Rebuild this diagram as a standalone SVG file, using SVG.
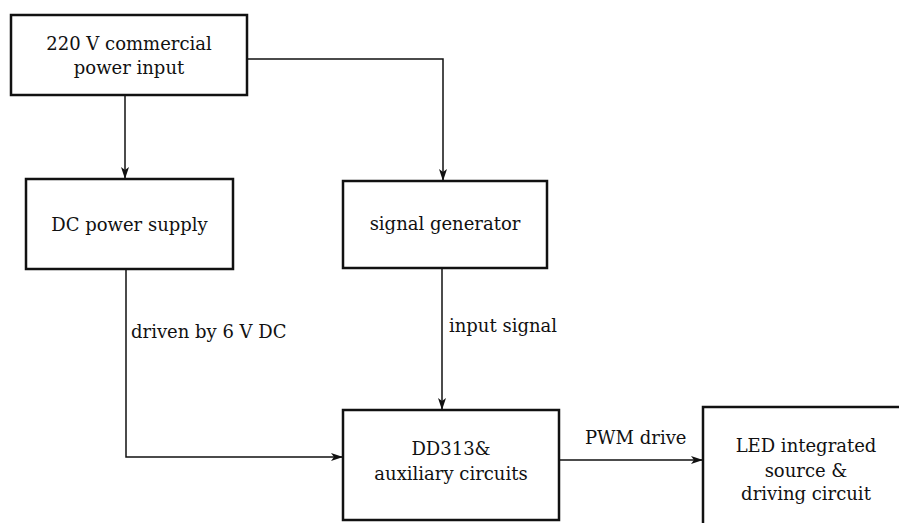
<svg xmlns="http://www.w3.org/2000/svg" width="899" height="523" viewBox="0 0 899 523">
<style>
.box{fill:#fff;stroke:#111;stroke-width:2.5}
.t{font-family:'DejaVu Serif','Liberation Serif',serif;font-size:18px;fill:#111;text-anchor:middle}
.l{font-family:'DejaVu Serif','Liberation Serif',serif;font-size:18px;fill:#111}
.c{fill:none;stroke:#111;stroke-width:1.5}
</style>
<defs>
<marker id="a" viewBox="0 0 12 8" refX="12" refY="4" markerWidth="12" markerHeight="8" markerUnits="userSpaceOnUse" orient="auto">
<path d="M0,0 L12,4 L0,8 L3,4 Z" fill="#111"/>
</marker>
</defs>
<rect width="899" height="523" fill="#fff"/>
<g id="connectors">
<path class="c" d="M125,95 V179" marker-end="url(#a)"/>
<path class="c" d="M247,59 H443 V181" marker-end="url(#a)"/>
<path class="c" d="M126,269 V457 H343" marker-end="url(#a)"/>
<path class="c" d="M442,268 V410" marker-end="url(#a)"/>
<path class="c" d="M559,460 H703" marker-end="url(#a)"/>
</g>
<g id="power-input">
<rect class="box" x="11" y="15" width="236" height="80"/>
<text class="t" x="129" y="50">220 V commercial</text>
<text class="t" x="129" y="74">power input</text>
</g>
<g id="dc-power">
<rect class="box" x="26" y="179" width="207" height="90"/>
<text class="t" x="129.5" y="231">DC power supply</text>
</g>
<g id="signal-gen">
<rect class="box" x="343" y="181" width="204" height="87"/>
<text class="t" x="445" y="230">signal generator</text>
</g>
<g id="dd313">
<rect class="box" x="343" y="410" width="216" height="110"/>
<text class="t" x="451" y="455">DD313&amp;</text>
<text class="t" x="451" y="480">auxiliary circuits</text>
</g>
<g id="led">
<rect class="box" x="703" y="407" width="210" height="130"/>
<text class="t" x="806" y="452">LED integrated</text>
<text class="t" x="806" y="477">source &amp;</text>
<text class="t" x="806" y="500">driving circuit</text>
</g>
<g id="labels">
<text class="l" x="131" y="338">driven by 6 V DC</text>
<text class="l" x="449" y="332">input signal</text>
<text class="l" x="585" y="444">PWM drive</text>
</g>
</svg>
